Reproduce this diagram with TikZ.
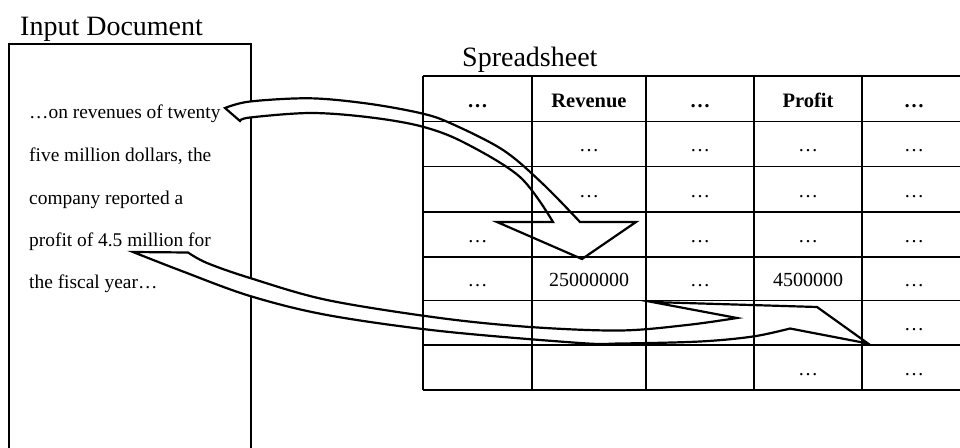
\documentclass[tikz,border=0pt]{standalone}
\usepackage{fontspec}
\setmainfont{Liberation Serif}
\begin{document}
\begin{tikzpicture}[x=1pt,y=-1pt,
  title/.style={font=\fontsize{28}{31}\selectfont, anchor=base west, inner sep=0pt},
  doctext/.style={font=\fontsize{19.4}{22}\selectfont, anchor=base west, inner sep=0pt},
  headcell/.style={font=\fontsize{20.5}{24}\selectfont\bfseries, anchor=base, inner sep=0pt},
  cell/.style={font=\fontsize{20}{24}\selectfont, anchor=base, inner sep=0pt},
  frame/.style={draw=black, line width=1.6pt},
  gridline/.style={draw=black, line width=1.5pt},
  blockarrow/.style={draw=black, fill=white, line width=2.2pt, line join=miter, miter limit=25}]
\useasboundingbox (0,0) rectangle (960,447);

% titles
\node[title] (tdoc) at (20,35) {Input Document};
\node[title] (tsheet) at (462,66) {Spreadsheet};

% input document frame and its text
\node[frame, anchor=north west, minimum width=242pt, minimum height=440pt, inner sep=0pt] (doc) at (8,43) {};
\node[doctext] (d1) at (29,118) {…on revenues of twenty};
\node[doctext] (d2) at (29,161) {five million dollars, the};
\node[doctext] (d3) at (29,204) {company reported a};
\node[doctext] (d4) at (29,246.5) {profit of 4.5 million for};
\node[doctext] (d5) at (29,288) {the fiscal year…};

% block arrow: "twenty five million" -> Revenue cell
\draw[blockarrow] (225,108)
  -- plot[smooth, tension=0.55] coordinates {(225,108) (250,101.5) (310,98.3) (367,103.5) (420,113) (450,123) (503,150) (543,184) (580,222)}
  -- (636,222) -- (582,259) -- (497,222) -- (553,222)
  -- plot[smooth, tension=0.55] coordinates {(553,222) (520,177) (463,142) (420,126) (367,117) (310,113) (250,117.5) (240,121)}
  -- cycle;

% block arrow: "4.5 million" -> Profit cell
\draw[blockarrow] (133,252) -- (188,252.5)
  -- plot[smooth, tension=0.55] coordinates {(188,252.5) (207,263) (250,278) (327,300) (440,318) (530,327) (620,330.5) (687,325) (737,318)}
  -- (652,302) -- (817,307) -- (868,343.5) -- (790,328.5)
  -- plot[smooth, tension=0.55] coordinates {(790,328.5) (753,336.5) (700,341.5) (620,343.5) (580,343) (440,331) (327,315) (250,296) (183,271.5) (133,252)}
  -- cycle;

% spreadsheet grid
\foreach \yy in {76,121.5,166.5,212,257,300.5,345,390}
  \draw[gridline] (423,\yy) -- (970,\yy);
\foreach \xx in {423,532,646,754,862}
  \draw[gridline] (\xx,76) -- (\xx,390);

% header row
\node[headcell] (h1) at (477.5,107.5) {…};
\node[headcell] (h2) at (589,107.5) {Revenue};
\node[headcell] (h3) at (700,107.5) {…};
\node[headcell] (h4) at (808,107) {Profit};
\node[headcell] (h5) at (914,107.5) {…};

% body rows
\node[cell] (r2c2) at (589,151.5) {…};
\node[cell] (r2c3) at (700,151.5) {…};
\node[cell] (r2c4) at (808,151.5) {…};
\node[cell] (r2c5) at (914,151.5) {…};

\node[cell] (r3c2) at (589,197) {…};
\node[cell] (r3c3) at (700,197) {…};
\node[cell] (r3c4) at (808,197) {…};
\node[cell] (r3c5) at (914,197) {…};

\node[cell] (r4c1) at (477.5,242) {…};
\node[cell] (r4c3) at (700,242) {…};
\node[cell] (r4c4) at (808,242) {…};
\node[cell] (r4c5) at (914,242) {…};

\node[cell] (r5c1) at (477.5,286.5) {…};
\node[cell] (r5c2) at (589,286.5) {25000000};
\node[cell] (r5c3) at (700,286.5) {…};
\node[cell] (r5c4) at (808,286) {4500000};
\node[cell] (r5c5) at (914,286.5) {…};

\node[cell] (r6c5) at (914,330) {…};

\node[cell] (r7c4) at (808,375) {…};
\node[cell] (r7c5) at (914,375) {…};
\end{tikzpicture}
\end{document}
